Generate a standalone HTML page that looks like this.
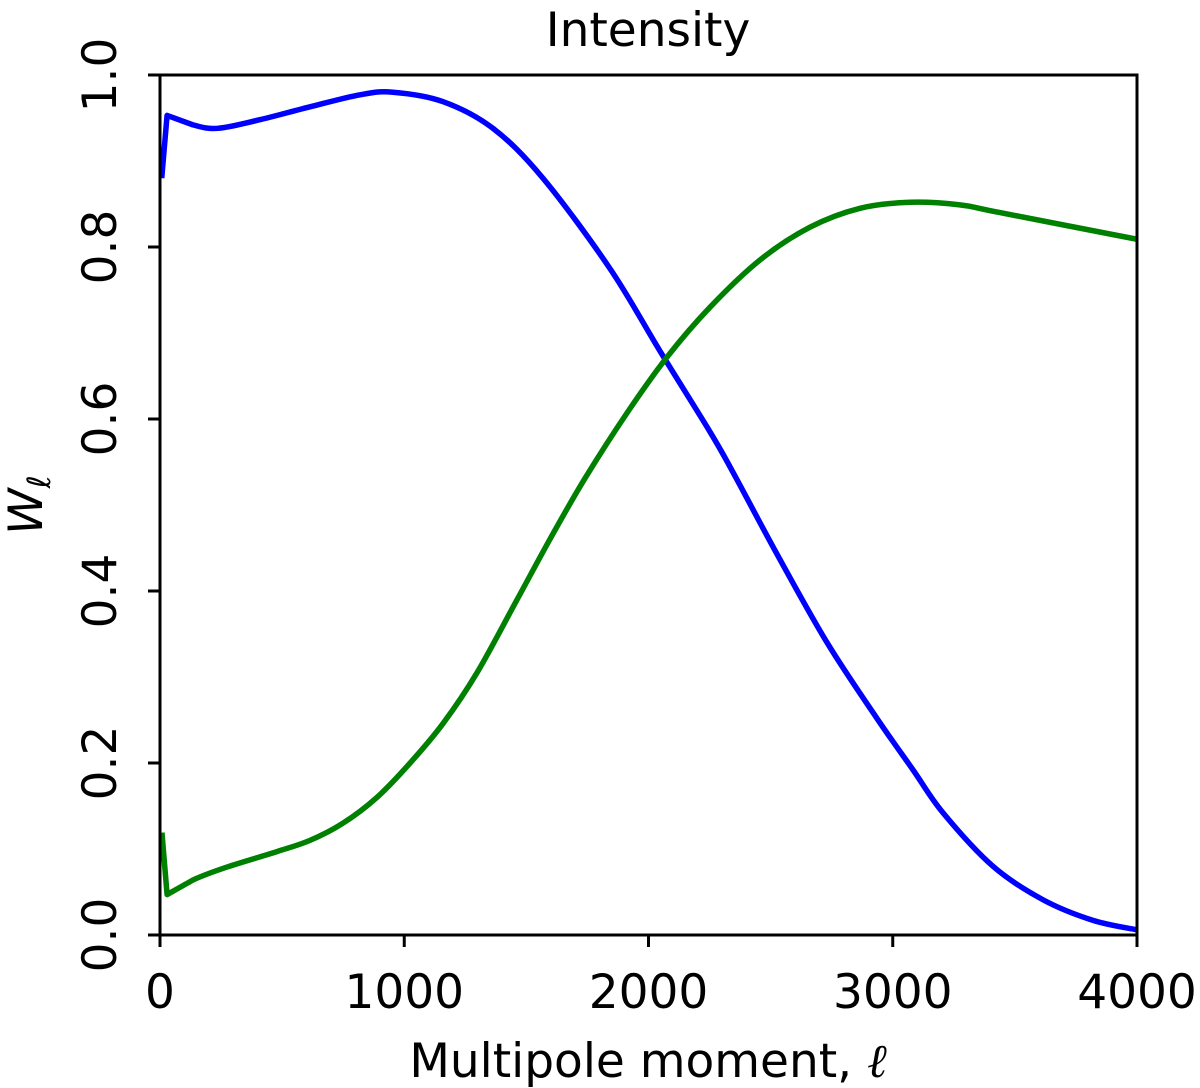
<!DOCTYPE html>
<html><head><meta charset="utf-8"><style>
html,body{margin:0;padding:0;background:#fff;width:1200px;height:1088px;overflow:hidden;}
text{font-family:"DejaVu Sans","Liberation Sans",sans-serif;fill:#000;}
</style></head><body>
<svg id="chart" width="1200" height="1088">
<text x="648" y="46" font-size="47" text-anchor="middle">Intensity</text>
<g id="axes"></g>
<g id="series"></g>
<rect x="160" y="75" width="977" height="860" fill="none" stroke="#000" stroke-width="3"/>
<text x="648" y="1077" font-size="47" text-anchor="middle">Multipole moment, <tspan font-style="italic" font-family="DejaVu Serif,serif">ℓ</tspan></text>
<text transform="translate(42,505) rotate(-90)" font-size="47" text-anchor="middle" font-style="italic">W<tspan font-size="32" dy="8">ℓ</tspan></text>
</svg>
<script>
const xTicks=[0,1000,2000,3000,4000];
const yTicks=[0.0,0.2,0.4,0.6,0.8,1.0];
const yTickLabels=["0.0","0.2","0.4","0.6","0.8","1.0"];
const blueL=[7,29,135,237,409,614,819,954,1159,1363,1568,1842,2047,2252,2346,2526,2731,2935,3083,3206,3410,3615,3820,4000];
const blueW=[0.88,0.953,0.942,0.938,0.948,0.963,0.977,0.980,0.969,0.938,0.880,0.775,0.679,0.585,0.538,0.443,0.340,0.252,0.192,0.142,0.080,0.041,0.017,0.006];
const greenL=[8,29,135,274,479,614,749,888,1024,1159,1298,1462,1600,1740,1912,2076,2252,2457,2661,2866,3071,3275,3439,4000];
const greenW=[0.119,0.047,0.064,0.079,0.097,0.110,0.130,0.160,0.200,0.246,0.305,0.390,0.462,0.531,0.607,0.672,0.730,0.785,0.823,0.845,0.852,0.849,0.840,0.809];
const X=v=>160+v/4000*977;
const Y=v=>935-v*860;
const NS="http://www.w3.org/2000/svg";
const axes=document.getElementById('axes');
xTicks.forEach(t=>{
 const l=document.createElementNS(NS,'line');
 l.setAttribute('x1',X(t));l.setAttribute('x2',X(t));l.setAttribute('y1',935);l.setAttribute('y2',947);
 l.setAttribute('stroke','#000');l.setAttribute('stroke-width','3');
 
 
 axes.appendChild(l);
 const tx=document.createElementNS(NS,'text');
 tx.setAttribute('x',X(t));tx.setAttribute('y',1008);tx.setAttribute('font-size','47');tx.setAttribute('text-anchor','middle');
 tx.textContent=t;
 
 
 axes.appendChild(tx);
});
yTicks.forEach((t,i)=>{
 const l=document.createElementNS(NS,'line');
 l.setAttribute('x1',148);l.setAttribute('x2',160);l.setAttribute('y1',Y(t));l.setAttribute('y2',Y(t));
 l.setAttribute('stroke','#000');l.setAttribute('stroke-width','3');
 
 
 axes.appendChild(l);
 const tx=document.createElementNS(NS,'text');
 tx.setAttribute('transform','translate(116,'+Y(t)+') rotate(-90)');
 tx.setAttribute('font-size','47');tx.setAttribute('text-anchor','middle');
 tx.textContent=yTickLabels[i];
 
 
 axes.appendChild(tx);
});
function draw(L,W,color,name){
 const P=L.map((l,i)=>[X(l),Y(W[i])]);
 let d='M'+P[0][0]+','+P[0][1];
 for(let i=0;i<P.length-1;i++){
  const p0=P[Math.max(0,i-1)],p1=P[i],p2=P[i+1],p3=P[Math.min(P.length-1,i+2)];
  const t=(i<2)?0:1/6;
  const c1=[p1[0]+(p2[0]-p0[0])*t,p1[1]+(p2[1]-p0[1])*t];
  const c2=[p2[0]-(p3[0]-p1[0])*t,p2[1]-(p3[1]-p1[1])*t];
  d+=' C'+c1[0]+','+c1[1]+' '+c2[0]+','+c2[1]+' '+p2[0]+','+p2[1];
 }
 const p=document.createElementNS(NS,'path');
 p.setAttribute('d',d);
 p.setAttribute('fill','none');p.setAttribute('stroke',color);p.setAttribute('stroke-width','5.5');
 p.setAttribute('stroke-linejoin','round');
 
 
 document.getElementById('series').appendChild(p);
}
draw(blueL,blueW,'#0000ff','blue-series-line');
draw(greenL,greenW,'#008000','green-series-line');
</script>
</body></html>
